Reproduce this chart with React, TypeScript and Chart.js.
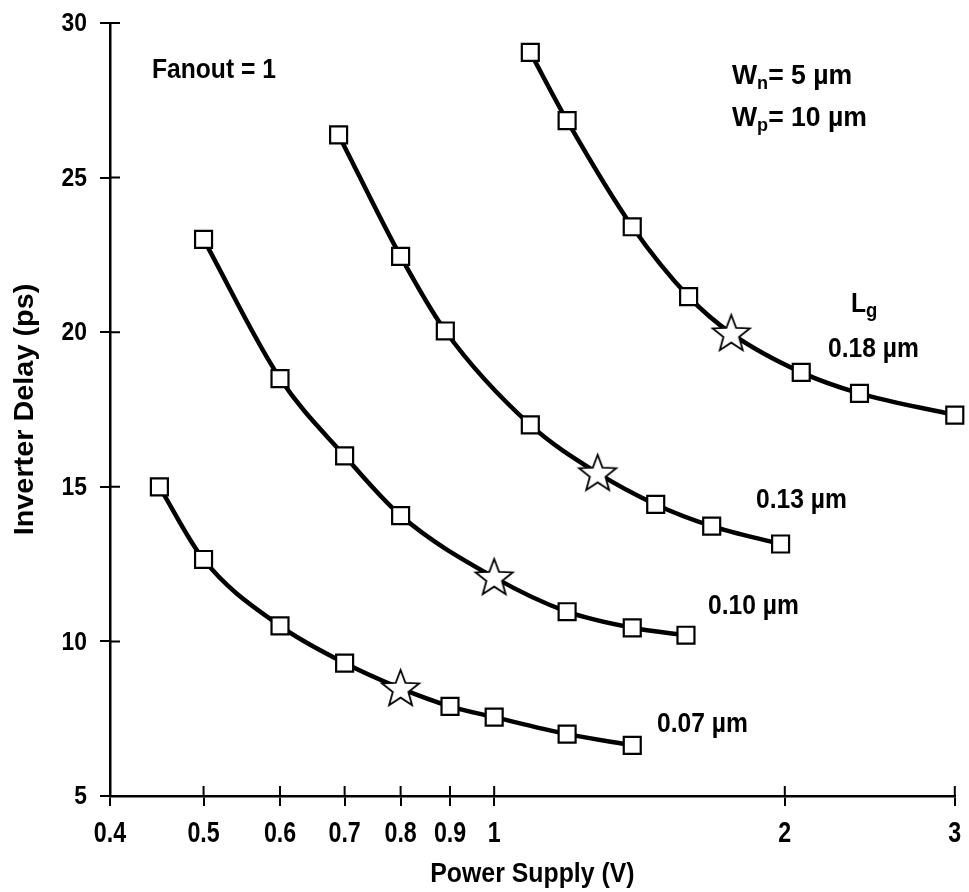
import React, { useEffect, useRef } from "react";
import { Chart, registerables } from "chart.js";

Chart.register(...registerables);

const FONT = "'Liberation Sans', Arial, sans-serif";

// Axis ticks
const xTickValues = [0.4, 0.5, 0.6, 0.7, 0.8, 0.9, 1, 2, 3];
const yTickValues = [5, 10, 15, 20, 25, 30];

// Gate length series (square markers)
const seriesLabels = ["0.07 µm", "0.10 µm", "0.13 µm", "0.18 µm"];

const lg007Vdd = [0.45, 0.5, 0.6, 0.7, 0.9, 1.0, 1.19, 1.39];
const lg007Delay = [15.0, 12.65, 10.5, 9.3, 7.9, 7.55, 7.0, 6.64];

const lg010Vdd = [0.5, 0.6, 0.7, 0.8, 1.19, 1.39, 1.58];
const lg010Delay = [23.0, 18.5, 16.0, 14.07, 10.96, 10.44, 10.2];

const lg013Vdd = [0.69, 0.8, 0.89, 1.09, 1.47, 1.68, 1.98];
const lg013Delay = [26.38, 22.45, 20.04, 17.0, 14.43, 13.73, 13.15];

const lg018Vdd = [1.09, 1.19, 1.39, 1.59, 2.08, 2.39, 3.0];
const lg018Delay = [29.05, 26.84, 23.41, 21.15, 18.7, 18.02, 17.32];

// Star markers (one per curve, same order as seriesLabels)
const starVdd = [0.8, 1.0, 1.28, 1.76];
const starDelay = [8.48, 12.07, 15.44, 19.96];

const xTitle = "Power Supply (V)";
const yTitle = "Inverter Delay (ps)";

const seriesVdd = [lg007Vdd, lg010Vdd, lg013Vdd, lg018Vdd];
const seriesDelay = [lg007Delay, lg010Delay, lg013Delay, lg018Delay];

function makeStar(R: number, r: number, lw: number): HTMLCanvasElement {
  const c = document.createElement("canvas");
  const size = Math.ceil(2 * R + lw * 2 + 2);
  c.width = size;
  c.height = size;
  const g = c.getContext("2d")!;
  g.translate(size / 2, size / 2 + R * 0.05);
  g.beginPath();
  for (let i = 0; i < 10; i++) {
    const a = -Math.PI / 2 + (i * Math.PI) / 5;
    const rad = i % 2 === 0 ? R : r;
    const px = Math.cos(a) * rad;
    const py = Math.sin(a) * rad;
    if (i === 0) g.moveTo(px, py);
    else g.lineTo(px, py);
  }
  g.closePath();
  g.fillStyle = "#fff";
  g.fill();
  g.lineWidth = lw;
  g.strokeStyle = "#000";
  g.stroke();
  return c;
}

type Run = { t: string; size: number; dy?: number };

// Draws runs of bold text, horizontally condensed by sx, starting at (x, y)
function drawRuns(
  ctx: CanvasRenderingContext2D,
  x: number,
  y: number,
  runs: Run[],
  sx: number,
  align: "left" | "center" | "right" = "left",
  rotate = 0
) {
  ctx.save();
  ctx.translate(x, y);
  if (rotate) ctx.rotate(rotate);
  ctx.scale(sx, 1);
  ctx.textAlign = "left";
  ctx.textBaseline = "middle";
  let total = 0;
  for (const run of runs) {
    ctx.font = `bold ${run.size}px ${FONT}`;
    total += ctx.measureText(run.t).width;
  }
  let cx = align === "left" ? 0 : align === "center" ? -total / 2 : -total;
  for (const run of runs) {
    ctx.font = `bold ${run.size}px ${FONT}`;
    ctx.fillText(run.t, cx, run.dy || 0);
    cx += ctx.measureText(run.t).width;
  }
  ctx.restore();
}

const annotationPlugin = {
  id: "annotations",
  afterDraw(chart: any) {
    const ctx: CanvasRenderingContext2D = chart.ctx;
    const xs = chart.scales.x;
    const ys = chart.scales.y;
    ctx.save();
    // inner halves of the tick marks (crossing the axes)
    ctx.strokeStyle = "#000";
    ctx.lineWidth = 2;
    ctx.beginPath();
    for (const t of ys.ticks) {
      const py = ys.getPixelForValue(t.value);
      ctx.moveTo(ys.right, py);
      ctx.lineTo(ys.right + 10, py);
    }
    for (const t of xs.ticks) {
      const px = xs.getPixelForValue(t.value);
      ctx.moveTo(px, xs.top);
      ctx.lineTo(px, xs.top - 10);
    }
    ctx.stroke();

    ctx.fillStyle = "#000";
    // tick labels (condensed bold, like the original typesetting)
    for (const t of ys.ticks) {
      const py = ys.getPixelForValue(t.value);
      drawRuns(ctx, ys.right - 23, py + 1, [{ t: String(t.value), size: 26 }], 0.88, "right");
    }
    for (const t of xs.ticks) {
      const px = xs.getPixelForValue(t.value);
      drawRuns(ctx, px, xs.top + 38, [{ t: String(t.value), size: 29 }], 0.8, "center");
    }
    // axis titles
    drawRuns(ctx, (xs.left + xs.right) / 2, 875, [{ t: xTitle, size: 27 }], 0.92, "center");
    drawRuns(ctx, 25, (ys.top + ys.bottom) / 2, [{ t: yTitle, size: 28 }], 1.03, "center", -Math.PI / 2);

    const S = 28;
    const SX = 0.88;
    drawRuns(ctx, 152, 70, [{ t: "Fanout = 1", size: S }], SX);
    drawRuns(
      ctx,
      732,
      76,
      [
        { t: "W", size: S },
        { t: "n", size: 19, dy: 8 },
        { t: "= 5 µm", size: S },
      ],
      0.95
    );
    drawRuns(
      ctx,
      732,
      118,
      [
        { t: "W", size: S },
        { t: "p", size: 19, dy: 8 },
        { t: "= 10 µm", size: S },
      ],
      0.95
    );
    drawRuns(
      ctx,
      851,
      304,
      [
        { t: "L", size: S },
        { t: "g", size: 21, dy: 7 },
      ],
      SX
    );
    const labelPos = [
      [657, 724],
      [708, 606],
      [756, 500],
      [828, 349],
    ];
    seriesLabels.forEach((s, i) => {
      drawRuns(ctx, labelPos[i][0], labelPos[i][1], [{ t: s, size: S }], SX);
    });
    ctx.restore();
  },
};

export default function App() {
  const canvasRef = useRef<HTMLCanvasElement | null>(null);

  useEffect(() => {
    const canvas = canvasRef.current;
    if (!canvas) return;
    const star = makeStar(19.5, 8.2, 1.8);

    const datasets = seriesLabels.map((label, i) => {
      const pts: any[] = seriesVdd[i].map((x, j) => ({ x, y: seriesDelay[i][j], star: false }));
      pts.push({ x: starVdd[i], y: starDelay[i], star: true });
      pts.sort((a, b) => a.x - b.x);
      return {
        label,
        data: pts,
        borderColor: "#000",
        borderWidth: 4.5,
        cubicInterpolationMode: "monotone" as const,
        fill: false,
        clip: false as any,
        pointStyle: (c: any) => (c.raw && c.raw.star ? star : "rect"),
        pointRadius: 12,
        pointBackgroundColor: "#fff",
        pointBorderColor: "#000",
        pointBorderWidth: 2.2,
      };
    });

    const chart = new Chart(canvas, {
      type: "line",
      data: { datasets: datasets as any },
      options: {
        animation: false,
        responsive: false,
        parsing: { xAxisKey: "x", yAxisKey: "y" } as any,
        layout: { padding: { left: 0, top: 23, right: 7, bottom: 0 } },
        plugins: {
          legend: { display: false },
          tooltip: { enabled: false },
        },
        scales: {
          x: {
            type: "logarithmic",
            min: 0.4,
            max: 3,
            afterBuildTicks: (scale: any) => {
              scale.ticks = xTickValues.map((value) => ({ value }));
            },
            afterFit: (scale: any) => {
              scale.height = 96;
            },
            ticks: { display: false, autoSkip: false },
            grid: {
              display: true,
              drawOnChartArea: false,
              drawTicks: true,
              tickLength: 10,
              color: "#000",
              lineWidth: 2,
            },
            border: { display: true, color: "#000", width: 2.5 },
            title: { display: false },
          },
          y: {
            type: "linear",
            min: 5,
            max: 30,
            afterBuildTicks: (scale: any) => {
              scale.ticks = yTickValues.map((value) => ({ value }));
            },
            afterFit: (scale: any) => {
              scale.width = 110;
            },
            ticks: { display: false },
            grid: {
              display: true,
              drawOnChartArea: false,
              drawTicks: true,
              tickLength: 10,
              color: "#000",
              lineWidth: 2,
            },
            border: { display: true, color: "#000", width: 2.5 },
            title: { display: false },
          },
        },
      },
      plugins: [annotationPlugin],
    });

    return () => {
      chart.destroy();
    };
  }, []);

  return (
    <div style={{ position: "fixed", left: 0, top: 0, width: 969, height: 892, background: "#fff" }}>
      <canvas ref={canvasRef} width={969} height={892} style={{ display: "block" }} />
    </div>
  );
}
